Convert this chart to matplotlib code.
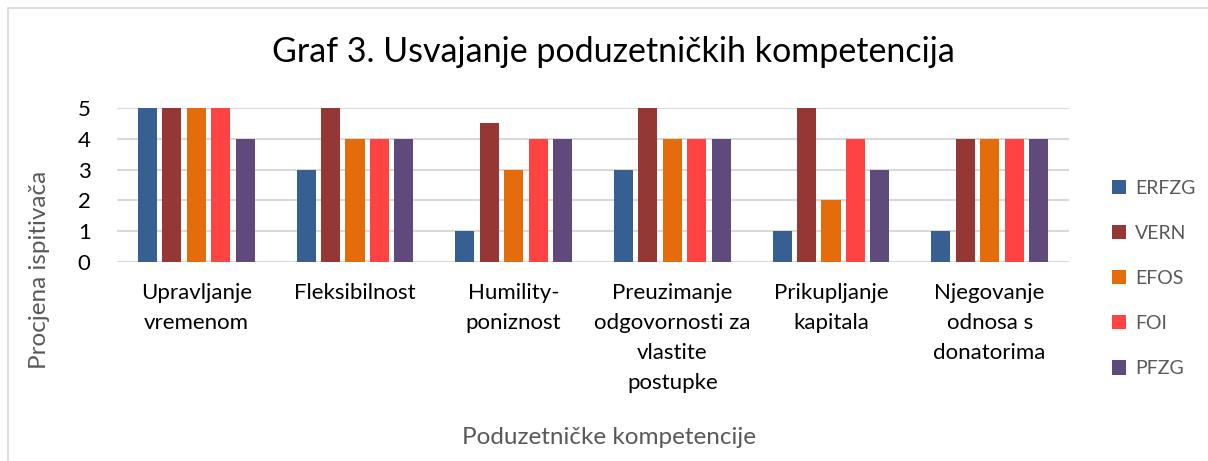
import matplotlib.pyplot as plt
import numpy as np
from matplotlib.patches import Rectangle

categories = ['Upravljanje\nvremenom', 'Fleksibilnost', 'Humility-\nponiznost',
              'Preuzimanje\nodgovornosti za\nvlastite\npostupke', 'Prikupljanje\nkapitala',
              'Njegovanje\nodnosa s\ndonatorima']
series = ['ERFZG', 'VERN', 'EFOS', 'FOI', 'PFZG']
erfzg = [5, 3, 1, 3, 1, 1]
vern = [5, 5, 4.5, 5, 5, 4]
efos = [5, 4, 3, 4, 2, 4]
foi = [5, 4, 4, 4, 4, 4]
pfzg = [4, 4, 4, 4, 3, 4]
colors = ['#366092', '#953735', '#E46C0A', '#FF4343', '#604A7B']

plt.rcParams['font.family'] = ['Lato', 'DejaVu Sans']
fig = plt.figure(figsize=(12.08, 4.61), dpi=100)
ax = fig.add_axes([117/1208, 1-262/461, (1069-117)/1208, (262-108)/461])

x = np.arange(len(categories))
pitch = 0.154
for i, (name, vals) in enumerate(zip(series, [erfzg, vern, efos, foi, pfzg])):
    ax.bar(x + (i - 2) * pitch, vals, width=0.12, color=colors[i], label=name, zorder=3)

ax.set_xlim(-0.5, len(categories) - 0.5)
ax.set_ylim(0, 5)
ax.set_yticks(range(6))
ax.yaxis.grid(True, color='#D9D9D9', linewidth=1.5, zorder=0)
ax.set_axisbelow(True)
for s in ax.spines.values():
    s.set_visible(False)
ax.tick_params(length=0)
ax.tick_params(axis='y', labelsize=16, colors='black', pad=19)
ax.set_xticks(x)
ax.set_xticklabels(categories, fontsize=16, linespacing=1.62, va='top')
ax.tick_params(axis='x', pad=15)

fig.text(40/1208, 1-270/461, 'Procjena ispitivača', rotation=90, fontsize=17.5,
         color='#595959', ha='center', va='center')
fig.text(609/1208, 1-437/461, 'Poduzetničke kompetencije', fontsize=17.5,
         color='#595959', ha='center', va='center')
fig.text(613/1208, 1-52/461, 'Graf 3. Usvajanje poduzetničkih kompetencija',
         fontsize=24.5, color='black', ha='center', va='center')

leg = fig.legend(loc='upper left', bbox_to_anchor=(1094/1208, 1-162/461), frameon=False,
                 fontsize=14, handlelength=0.75, handleheight=0.75, handletextpad=0.45,
                 labelspacing=1.45, labelcolor='#595959')

fig.patches.append(Rectangle((8/1208, -0.1), 1.5, 1 - 8/461 + 0.1, transform=fig.transFigure,
                             fill=False, edgecolor='#D9D9D9', linewidth=1.2))

fig.savefig('out.png', dpi=100)
